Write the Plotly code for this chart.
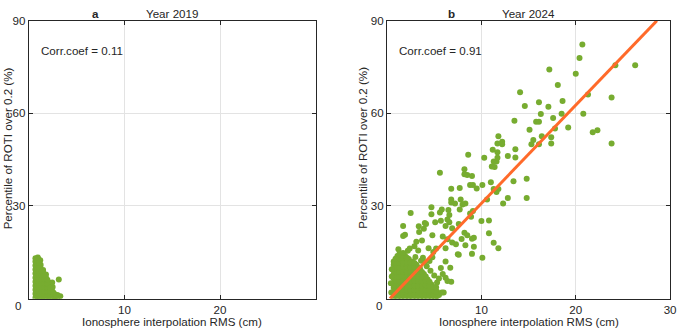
import plotly.graph_objects as go

# ---------------- data ----------------
# Panel a (2019): dense cluster near origin
a_x = [0.7, 0.7, 0.7, 0.7, 0.7, 0.7, 0.7, 0.7, 0.7, 0.7, 0.7,
       0.95, 0.95, 0.95, 0.95, 0.95, 0.95, 0.95, 0.95, 0.95, 0.95, 0.95,
       1.2, 1.2, 1.2, 1.2, 1.2, 1.2, 1.2, 1.2, 1.2, 1.2,
       1.5, 1.5, 1.5, 1.5, 1.5, 1.5, 1.5, 1.5,
       1.8, 1.8, 1.8, 1.8, 1.8, 1.8, 1.8,
       2.1, 2.1, 2.1, 2.1, 2.1,
       2.4, 2.4, 2.4, 2.4,
       2.7, 2.7, 3.0, 3.0,
       3.14, 2.5, 2.2, 1.24, 2.45, 3.3, 1.55, 1.0, 0.85,
       0.82, 0.82, 0.82, 0.82, 0.82, 0.82, 0.82, 0.82, 0.82, 0.82,
       1.08, 1.08, 1.08, 1.08, 1.08, 1.08, 1.08, 1.08, 1.08,
       1.35, 1.35, 1.35, 1.35, 1.35, 1.35, 1.35,
       1.65, 1.65, 1.65, 1.65, 1.65, 1.65,
       1.95, 1.95, 1.95, 1.95, 1.95,
       2.25, 2.25, 2.25, 2.55, 2.55, 2.85]
a_y = [0.3, 1.6, 2.9, 4.2, 5.5, 6.8, 8.1, 9.4, 10.7, 12.0, 13.1,
       0.5, 1.8, 3.1, 4.4, 5.7, 7.0, 8.3, 9.6, 10.9, 12.2, 13.3,
       0.3, 1.6, 2.9, 4.2, 5.5, 6.8, 8.1, 9.4, 10.5, 12.4,
       0.5, 1.8, 3.1, 4.4, 5.7, 7.0, 8.4, 9.3,
       0.3, 1.6, 2.9, 4.2, 5.5, 6.8, 7.8,
       0.5, 1.8, 3.1, 4.3, 5.2,
       0.3, 1.6, 2.8, 3.6,
       0.4, 1.5, 0.3, 1.2,
       6.2, 3.8, 2.3, 11.0, 5.2, 0.8, 7.8, 12.8, 11.5,
       1.0, 2.3, 3.6, 4.9, 6.2, 7.5, 8.8, 10.1, 11.4, 12.6,
       1.1, 2.4, 3.7, 5.0, 6.3, 7.6, 8.9, 10.2, 11.5,
       1.0, 2.3, 3.6, 4.9, 6.2, 7.5, 8.8,
       1.1, 2.4, 3.7, 5.0, 6.3, 7.6,
       1.0, 2.3, 3.6, 4.9, 6.1,
       1.1, 2.4, 3.5, 0.9, 2.1, 0.8]

# Panel b (2024): dense cluster near origin
b_cluster_x = [0.7, 0.7, 0.7, 0.7, 0.7, 0.7, 0.7, 0.7, 0.7,
               1.1, 1.1, 1.1, 1.1, 1.1, 1.1, 1.1, 1.1, 1.1, 1.1,
               1.5, 1.5, 1.5, 1.5, 1.5, 1.5, 1.5, 1.5, 1.5, 1.5,
               1.9, 1.9, 1.9, 1.9, 1.9, 1.9, 1.9, 1.9, 1.9, 1.9,
               2.3, 2.3, 2.3, 2.3, 2.3, 2.3, 2.3, 2.3, 2.3,
               2.7, 2.7, 2.7, 2.7, 2.7, 2.7, 2.7, 2.7, 2.7,
               3.1, 3.1, 3.1, 3.1, 3.1, 3.1, 3.1, 3.1,
               3.5, 3.5, 3.5, 3.5, 3.5, 3.5, 3.5,
               3.9, 3.9, 3.9, 3.9, 3.9, 3.9,
               4.3, 4.3, 4.3, 4.3, 4.3,
               4.7, 4.7, 4.7, 4.7,
               5.1, 5.1, 5.1,
               5.5,
               0.9, 0.9, 0.9, 0.9, 0.9, 0.9, 0.9, 0.9, 0.9,
               1.3, 1.3, 1.3, 1.3, 1.3, 1.3, 1.3, 1.3, 1.3, 1.3,
               1.7, 1.7, 1.7, 1.7, 1.7, 1.7, 1.7, 1.7, 1.7, 1.7,
               2.1, 2.1, 2.1, 2.1, 2.1, 2.1, 2.1, 2.1, 2.1,
               2.5, 2.5, 2.5, 2.5, 2.5, 2.5, 2.5, 2.5,
               2.9, 2.9, 2.9, 2.9, 2.9, 2.9, 2.9, 2.9,
               3.3, 3.3, 3.3, 3.3, 3.3, 3.3, 3.3,
               3.7, 3.7, 3.7, 3.7, 3.7, 3.7,
               4.1, 4.1, 4.1, 4.1, 4.1,
               4.5, 4.5, 4.5, 4.5,
               4.9, 4.9, 4.9,
               5.3, 5.3,
               1.2, 2.2, 3.0, 3.6, 4.2, 4.0, 5.0, 5.3, 4.6, 0.5, 0.4, 0.45, 0.5]
b_cluster_y = [0.5, 2.0, 3.5, 5.0, 6.5, 8.0, 9.5, 11.0, 12.0,
               0.3, 1.8, 3.3, 4.8, 6.3, 7.8, 9.3, 10.8, 12.3, 13.8,
               0.6, 2.1, 3.6, 5.1, 6.6, 8.1, 9.6, 11.1, 12.6, 14.6,
               0.4, 1.9, 3.4, 4.9, 6.4, 7.9, 9.4, 10.9, 12.4, 13.9,
               0.5, 2.0, 3.5, 5.0, 6.5, 8.0, 9.5, 11.0, 12.8,
               0.3, 1.8, 3.3, 4.8, 6.3, 7.8, 9.3, 10.8, 12.0,
               0.6, 2.1, 3.6, 5.1, 6.6, 8.1, 9.6, 11.0,
               0.4, 1.9, 3.4, 4.9, 6.4, 7.9, 9.6,
               0.5, 2.0, 3.5, 5.0, 6.5, 8.0,
               0.3, 1.8, 3.3, 4.8, 6.2,
               0.6, 2.1, 3.6, 4.6,
               0.4, 1.9, 3.0,
               1.2,
               1.2, 2.7, 4.2, 5.7, 7.2, 8.7, 10.2, 11.7, 12.9,
               1.1, 2.6, 4.1, 5.6, 7.1, 8.6, 10.1, 11.6, 13.1, 14.4,
               1.3, 2.8, 4.3, 5.8, 7.3, 8.8, 10.3, 11.8, 13.3, 14.8,
               1.2, 2.7, 4.2, 5.7, 7.2, 8.7, 10.2, 11.7, 13.2,
               1.1, 2.6, 4.1, 5.6, 7.1, 8.6, 10.1, 11.6,
               1.3, 2.8, 4.3, 5.8, 7.3, 8.8, 10.3, 11.5,
               1.2, 2.7, 4.2, 5.7, 7.2, 8.7, 10.2,
               1.1, 2.6, 4.1, 5.6, 7.1, 8.6,
               1.3, 2.8, 4.3, 5.8, 7.2,
               1.2, 2.7, 4.2, 5.5,
               1.1, 2.6, 3.8,
               0.8, 2.2,
               16.0, 15.5, 13.5, 12.3, 10.5, 11.8, 7.5, 5.2, 9.0, 9.5, 5.0, 2.0, 7.2]

# Panel b (2024): scattered points
b_x = [20.7, 20.4, 17.2, 20.0, 26.3, 24.2, 18.1, 14.1, 21.3, 23.8, 14.6, 16.1, 17.1, 18.6,
       16.3, 18.5, 20.8, 13.5, 15.8, 16.1, 17.6, 15.1, 17.8, 19.2, 21.8, 22.3, 23.8, 17.4,
       17.4, 15.5, 15.3, 16.1, 16.4, 11.8, 12.2, 12.2, 11.7, 11.2, 11.7, 12.8, 13.6, 13.6,
       10.3, 8.6, 11.1, 11.4, 11.6, 11.3, 11.7, 8.2, 8.2, 8.5, 9.0, 5.6, 11.0, 10.1, 8.8,
       9.1, 9.5, 13.4, 14.8, 14.8, 12.8, 10.6, 11.3, 11.8, 11.6, 12.3, 6.8, 7.7, 6.8, 6.8,
       7.2, 7.8, 8.0, 7.7, 8.3, 8.8, 9.1, 8.9, 4.7, 4.7, 5.6, 5.8, 6.5, 6.6, 2.5, 3.4, 3.9,
       4.0, 1.7, 1.7, 1.9, 5.1, 5.7, 6.4, 6.6, 6.2, 6.9, 7.6, 8.2, 9.2, 9.2, 9.0, 10.8, 10.0,
       10.1, 10.8, 11.3, 11.8, 5.9, 6.4, 6.9, 7.3, 7.9, 7.5, 6.2, 6.7, 6.2, 6.8, 5.8, 5.2,
       3.7, 3.1, 4.4, 4.9, 5.2, 3.8, 4.5, 4.8, 3.36, 4.13, 4.8, 8.5, 8.3, 9.0, 7.6, 6.2,
       5.7, 6.4, 6.0, 2.9, 2.4, 3.3, 5.5, 5.9]
b_y = [82.3, 77.9, 74.2, 72.8, 75.6, 75.6, 69.2, 66.8, 66.1, 65.1, 62.4, 63.6, 62.1, 64.0,
       59.8, 59.9, 59.9, 57.6, 57.3, 57.3, 58.5, 54.7, 55.1, 55.4, 53.9, 54.5, 50.2, 50.2,
       52.3, 51.4, 50.0, 50.0, 52.6, 52.6, 50.8, 50.0, 50.2, 48.2, 47.4, 46.2, 48.4, 45.7,
       45.6, 46.6, 42.8, 42.6, 44.4, 44.4, 45.6, 41.9, 40.3, 40.0, 39.7, 40.8, 37.7, 36.8, 36.8,
       36.8, 35.7, 38.0, 38.8, 32.6, 32.6, 32.1, 35.5, 35.5, 34.5, 30.8, 35.6, 35.8, 32.1, 31.1,
       30.8, 32.1, 30.5, 28.9, 30.8, 27.6, 28.4, 26.5, 29.6, 27.3, 27.9, 28.9, 28.7, 27.1, 27.7, 21.6, 22.6,
       24.5, 23.5, 20.3, 20.7, 24.7, 25.2, 25.6, 24.7, 23.5, 22.8, 24.2, 21.3, 19.7, 16.8, 14.5, 25.3, 25.1,
       13.2, 21.2, 18.1, 16.3, 20.1, 19.2, 18.2, 17.6, 19.3, 14.4, 16.3, 10.0, 6.8, 5.5, 2.0, 3.7,
       18.8, 18.4, 16.3, 15.1, 16.2, 13.2, 12.2, 13.4, 23.4, 24.2, 20.5, 20.5, 17.3, 19.4, 14.2, 12.0,
       9.9, 5.7, 2.0, 17.0, 16.2, 15.6, 6.5, 8.0]

# Fitted line (panel b)
fit_x = [0.3, 28.6]
fit_y = [0.0, 90.0]

corr_a = "Corr.coef = 0.11"
corr_b = "Corr.coef = 0.91"
x_title = "Ionosphere interpolation RMS (cm)"
y_title = "Percentile of ROTI over 0.2 (%)"

# ---------------- style ----------------
W, H = 685, 328
GREEN = "#77AC30"
ORANGE = "#FF6A2A"
AX = "#262626"
GRID = "#e3e3e3"
FONT = "Liberation Sans, Arial, Helvetica, sans-serif"
FS = 11.6

def px(x):
    return x / W

def py(y):
    return 1 - y / H

fig = go.Figure()
mk = dict(color=GREEN, size=6, line=dict(width=0))
fig.add_trace(go.Scatter(x=a_x, y=a_y, mode="markers", marker=mk, xaxis="x", yaxis="y",
                         showlegend=False, hoverinfo="skip"))
fig.add_trace(go.Scatter(x=b_cluster_x + b_x, y=b_cluster_y + b_y, mode="markers", marker=mk,
                         xaxis="x2", yaxis="y2", showlegend=False, hoverinfo="skip"))
fig.add_trace(go.Scatter(x=fit_x, y=fit_y, mode="lines", line=dict(color=ORANGE, width=3),
                         xaxis="x2", yaxis="y2", showlegend=False, hoverinfo="skip", cliponaxis=True))

ax_common = dict(range=[0, 30], showline=True, linecolor=AX, linewidth=1, mirror="ticks",
                 ticks="inside", ticklen=4, tickcolor=AX, showgrid=True, gridcolor=GRID,
                 gridwidth=1, zeroline=False, tickfont=dict(family=FONT, size=FS, color=AX),
                 fixedrange=True)
ay_common = dict(range=[0, 90], showline=True, linecolor=AX, linewidth=1, mirror="ticks",
                 ticks="inside", ticklen=4, tickcolor=AX, showgrid=True, gridcolor=GRID,
                 gridwidth=1, zeroline=False, tickvals=[30, 60, 90],
                 tickfont=dict(family=FONT, size=FS, color=AX), fixedrange=True)

y_dom = [py(298), py(14)]
fig.update_layout(
    width=W, height=H,
    margin=dict(l=0, r=0, t=0, b=0),
    paper_bgcolor="white", plot_bgcolor="white",
    xaxis=dict(ax_common, domain=[px(29), px(318.5)], tickvals=[10, 20], anchor="y"),
    yaxis=dict(ay_common, domain=y_dom, anchor="x"),
    xaxis2=dict(ax_common, domain=[px(390.5), px(676)], tickvals=[10, 20, 30], anchor="y2"),
    yaxis2=dict(ay_common, domain=y_dom, anchor="x2"),
    font=dict(family=FONT, size=FS, color=AX),
)

ann = []
tf = dict(family=FONT, size=FS, color=AX)
# corner zero labels
for xc in (18, 382):
    ann.append(dict(text="0", x=px(xc), y=py(305), xref="paper", yref="paper",
                    showarrow=False, font=tf, xanchor="center", yanchor="middle"))
# axis titles
for xc in (173.5, 533.5):
    ann.append(dict(text=x_title, x=px(xc), y=py(321.5), xref="paper", yref="paper",
                    showarrow=False, font=tf, xanchor="center", yanchor="middle"))
for xc in (7.5, 366):
    ann.append(dict(text=y_title, x=px(xc), y=py(144), xref="paper", yref="paper",
                    showarrow=False, font=tf, textangle=-90, xanchor="center", yanchor="middle"))
# panel titles
ann.append(dict(text="<b>a</b>", x=px(96), y=py(6.5), xref="paper", yref="paper",
                showarrow=False, font=tf, xanchor="center", yanchor="middle"))
ann.append(dict(text="Year 2019", x=px(173.5), y=py(6.5), xref="paper", yref="paper",
                showarrow=False, font=tf, xanchor="center", yanchor="middle"))
ann.append(dict(text="<b>b</b>", x=px(455), y=py(6.5), xref="paper", yref="paper",
                showarrow=False, font=tf, xanchor="center", yanchor="middle"))
ann.append(dict(text="Year 2024", x=px(533.5), y=py(6.5), xref="paper", yref="paper",
                showarrow=False, font=tf, xanchor="center", yanchor="middle"))
# correlation texts
ann.append(dict(text=corr_a, x=1.1, y=80.2, xref="x", yref="y", showarrow=False,
                font=tf, xanchor="left", yanchor="middle"))
ann.append(dict(text=corr_b, x=1.0, y=80.2, xref="x2", yref="y2", showarrow=False,
                font=tf, xanchor="left", yanchor="middle"))
fig.update_layout(annotations=ann)

fig.write_html("out.html", config={"displayModeBar": False},
               post_script="document.body.style.margin='0';document.body.style.overflow='hidden';")
